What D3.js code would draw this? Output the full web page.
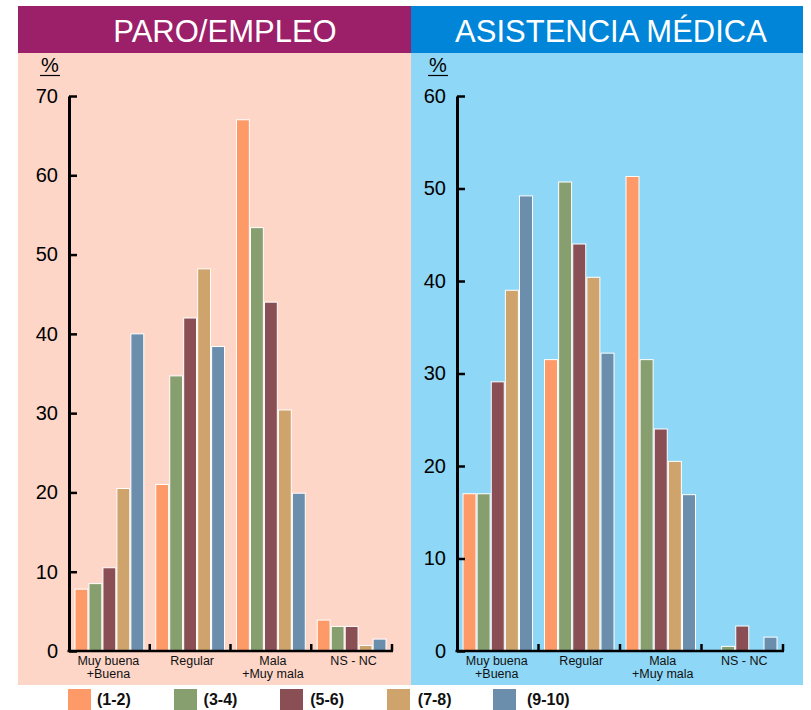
<!DOCTYPE html>
<html>
<head>
<meta charset="utf-8">
<script src="https://cdn.jsdelivr.net/npm/d3@7"></script>
<style>
  body { margin: 0; background: #fff; }
  text { font-family: "Liberation Sans", Arial, sans-serif; }
</style>
</head>
<body>
<div id="chart-area"></div>
<script>
// categories, series and values
const categories = [["Muy buena", "+Buena"], ["Regular"], ["Mala", "+Muy mala"], ["NS - NC"]]
const seriesNames = ["(1-2)", "(3-4)", "(5-6)", "(7-8)", "(9-10)"]
const seriesColors = ["#FD9A68", "#879F6F", "#8A4E55", "#CEA46C", "#6A8EAB"]

const paroValues = [
  [7.8, 8.5, 10.5, 20.5, 40.0],
  [21.0, 34.7, 42.0, 48.2, 38.4],
  [67.0, 53.4, 44.0, 30.4, 19.9],
  [3.9, 3.1, 3.1, 0.7, 1.5]
]
const asistenciaValues = [
  [17.0, 17.0, 29.1, 39.0, 49.2],
  [31.5, 50.7, 44.0, 40.4, 32.2],
  [51.3, 31.5, 24.0, 20.5, 16.9],
  [0, 0.5, 2.7, 0, 1.5]
]
const paroTicks = [0, 10, 20, 30, 40, 50, 60, 70]
const asistenciaTicks = [0, 10, 20, 30, 40, 50, 60]

const WIDTH = 811
const HEIGHT = 710
const Y0 = 651, YTOP = 96

const svg = d3.select("#chart-area").append("svg")
  .attr("width", WIDTH)
  .attr("height", HEIGHT)

const panels = [
  { title: "PARO/EMPLEO", left: 18, right: 411, header: "#9B1F69", bg: "#FDD6C8",
    axisX: 69, endX: 392, max: 70, ticks: paroTicks, values: paroValues, titleX: 225 },
  { title: "ASISTENCIA MÉDICA", left: 411, right: 803, header: "#0085D8", bg: "#8ED7F6",
    axisX: 457, endX: 783, max: 60, ticks: asistenciaTicks, values: asistenciaValues, titleX: 611 }
]

panels.forEach(p => {
  const g = svg.append("g")

  // background + header
  g.append("rect")
    .attr("x", p.left).attr("y", 53)
    .attr("width", p.right - p.left).attr("height", 632)
    .attr("fill", p.bg)
  g.append("rect")
    .attr("x", p.left).attr("y", 6)
    .attr("width", p.right - p.left).attr("height", 47)
    .attr("fill", p.header)
  g.append("text")
    .attr("x", p.titleX).attr("y", 42)
    .attr("text-anchor", "middle")
    .attr("fill", "#fff")
    .attr("font-size", 31)
    .text(p.title)

  // scales
  const y = d3.scaleLinear().domain([0, p.max]).range([Y0, YTOP])
  const x0 = d3.scaleBand()
    .domain(categories.map((c, i) => i))
    .range([p.axisX, p.endX])
  const x1 = d3.scaleBand()
    .domain(seriesNames.map((s, i) => i))
    .range([6, x0.bandwidth() - 6])
    .paddingInner(0.08)

  // % label
  g.append("text")
    .attr("x", p.axisX - 19).attr("y", 72)
    .attr("text-anchor", "middle")
    .attr("font-size", 20)
    .text("%")
  g.append("line")
    .attr("x1", p.axisX - 29).attr("x2", p.axisX - 9)
    .attr("y1", 75.5).attr("y2", 75.5)
    .attr("stroke", "#000").attr("stroke-width", 1.2)

  // bars
  const groups = g.selectAll("g.grp")
    .data(p.values)
    .enter().append("g")
    .attr("class", "grp")
    .attr("transform", (d, i) => `translate(${x0(i)},0)`)

  groups.selectAll("rect")
    .data(d => d.map((v, i) => ({ v: v, i: i })).filter(d => d.v > 0))
    .enter().append("rect")
    .attr("x", d => x1(d.i))
    .attr("width", x1.bandwidth())
    .attr("y", d => y(d.v))
    .attr("height", d => Y0 - y(d.v))
    .attr("fill", d => seriesColors[d.i])
    .attr("stroke", "#fff")
    .attr("stroke-width", 1)

  // y axis
  const yAxisCall = d3.axisLeft(y)
    .tickValues(p.ticks)
    .tickSize(-8)
    .tickSizeOuter(0)
    .tickPadding(11)
  const yAxis = g.append("g")
    .attr("transform", `translate(${p.axisX},0)`)
    .call(yAxisCall)
  yAxis.select(".domain").attr("stroke-width", 3)
  yAxis.selectAll(".tick line").attr("stroke-width", 2.5)
  yAxis.selectAll(".tick text")
    .attr("font-size", 20)
    .attr("font-family", "Liberation Sans, Arial, sans-serif")
    .attr("fill", "#000")

  // x axis line with group separators
  g.append("line")
    .attr("x1", p.axisX - 1.5).attr("x2", p.endX + 1)
    .attr("y1", Y0).attr("y2", Y0)
    .attr("stroke", "#000").attr("stroke-width", 2.5)
  g.selectAll("line.sep")
    .data(categories.map((c, i) => i))
    .enter().append("line")
    .attr("class", "sep")
    .attr("x1", i => x0(i) + x0.bandwidth())
    .attr("x2", i => x0(i) + x0.bandwidth())
    .attr("y1", Y0).attr("y2", Y0 - 7)
    .attr("stroke", "#000").attr("stroke-width", 2.5)

  // category labels
  const lab = g.selectAll("text.cat")
    .data(categories)
    .enter().append("text")
    .attr("class", "cat")
    .attr("text-anchor", "middle")
    .attr("font-size", 12.5)
    .attr("fill", "#111")
  lab.selectAll("tspan")
    .data((d, i) => d.map(t => ({ t: t, i: i })))
    .enter().append("tspan")
    .attr("x", d => x0(d.i) + x0.bandwidth() / 2 + (d.i === 0 ? -1 : 2))
    .attr("y", (d, j) => 665 + j * 13)
    .text(d => d.t)
})

// legend
const legendX = [68, 174, 280, 387, 493]
const legend = svg.selectAll("g.legend")
  .data(seriesNames)
  .enter().append("g")
  .attr("class", "legend")
  .attr("transform", (d, i) => `translate(${legendX[i]},689)`)
legend.append("rect")
  .attr("width", 23).attr("height", 22)
  .attr("fill", (d, i) => seriesColors[i])
legend.append("text")
  .attr("x", (d, i) => i < 4 ? 29 + i * 0.6 : 34)
  .attr("y", 16)
  .attr("font-size", 16)
  .attr("font-weight", "bold")
  .attr("fill", "#111")
  .text(d => d)
</script>
</body>
</html>
